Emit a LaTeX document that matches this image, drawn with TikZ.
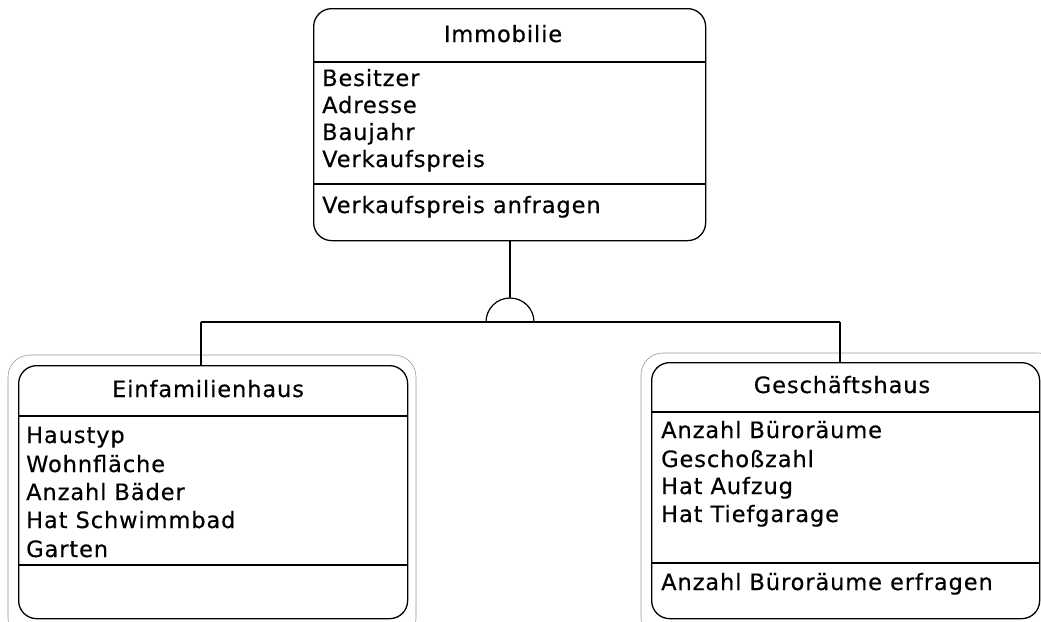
\documentclass[tikz,border=0pt]{standalone}
\usepackage{fontspec}
\setmainfont[LetterSpace=4, FakeBold=0.4]{DejaVu Sans}
\begin{document}
\begin{tikzpicture}[x=1pt,y=-1pt,
  cls/.style={draw, line width=1.3pt, rounded corners=18pt, inner sep=0pt, anchor=north west},
  halo/.style={draw=black!40, line width=0.6pt, rounded corners=22pt},
  rule/.style={line width=1.2pt},
  link/.style={line width=1.2pt},
  txt/.style={inner sep=0pt, font=\fontsize{22.5}{26}\selectfont},
  title/.style={txt, anchor=base},
  attr/.style={txt, anchor=base west}]
\useasboundingbox (0,0) rectangle (1041,621);

% Superclass
\node[cls, minimum width=392pt, minimum height=232pt] (imm) at (313,8) {};
\draw[rule] (313,62) -- (705,62);
\draw[rule] (313,184) -- (705,184);
\node[title] (immT) at (503,42) {Immobilie};
\node[attr] (immA1) at (322,86) {Besitzer};
\node[attr] (immA2) at (322,113) {Adresse};
\node[attr] (immA3) at (322,140) {Baujahr};
\node[attr] (immA4) at (322,167) {Verkaufspreis};
\node[attr] (immO1) at (322,213) {Verkaufspreis anfragen};

% Subclass frames
\draw[halo] (8,355) rectangle (416,640);
\draw[halo] (641,353) rectangle (1060,640);

% Einfamilienhaus
\node[cls, minimum width=389pt, minimum height=253pt] (efh) at (18,365) {};
\draw[rule] (18,416) -- (407,416);
\draw[rule] (18,565) -- (407,565);
\node[title] (efhT) at (208,397) {Einfamilienhaus};
\node[attr] (efhA1) at (26,443) {Haustyp};
\node[attr] (efhA2) at (26,472) {Wohnfläche};
\node[attr] (efhA3) at (26,500) {Anzahl Bäder};
\node[attr] (efhA4) at (26,528) {Hat Schwimmbad};
\node[attr] (efhA5) at (26,557) {Garten};

% Geschäftshaus
\node[cls, minimum width=388pt, minimum height=256pt] (gh) at (651,362) {};
\draw[rule] (651,412) -- (1039,412);
\draw[rule] (651,563) -- (1039,563);
\node[title] (ghT) at (842,393) {Geschäftshaus};
\node[attr] (ghA1) at (661,438) {Anzahl Büroräume};
\node[attr] (ghA2) at (661,467) {Geschoßzahl};
\node[attr] (ghA3) at (661,494) {Hat Aufzug};
\node[attr] (ghA4) at (661,522) {Hat Tiefgarage};
\node[attr] (ghO1) at (661,590) {Anzahl Büroräume erfragen};

% Generalization
\coordinate (gen) at (510,322);
\coordinate (jl) at (201,322);
\coordinate (jr) at (840,322);
\draw[link] (imm.south -| gen) -- ([yshift=24pt]gen);
\draw[link] ([xshift=-24pt]gen) arc[start angle=180, end angle=0, radius=24pt];
\draw[link] (jl) -- (jr);
\draw[link] (jl) -- (jl |- efh.north);
\draw[link] (jr) -- (jr |- gh.north);
\end{tikzpicture}
\end{document}
